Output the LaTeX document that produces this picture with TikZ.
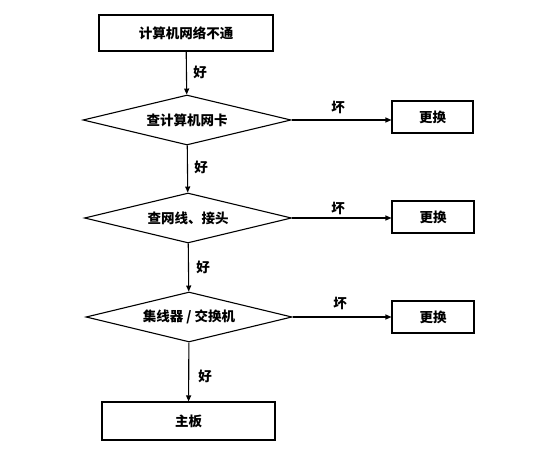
\documentclass[tikz,border=0pt]{standalone}
\usepackage{fontspec}
\setmainfont{Noto Sans CJK SC}
\usetikzlibrary{shapes.geometric,arrows.meta}
\begin{document}
\begin{tikzpicture}[x=1pt,y=-1pt,
  every node/.style={font=\fontsize{13.5}{14}\selectfont\bfseries},
  boxnode/.style={draw, line width=1.1pt, rectangle, inner sep=0pt},
  decide/.style={draw, line width=1.1pt, diamond, aspect=4, inner sep=0pt},
  flow/.style={draw, line width=1.1pt, -{Triangle[length=6pt,width=5pt]}},
  lbl/.style={inner sep=0pt}]
\useasboundingbox (0,0) rectangle (554,449);
\node[boxnode, minimum width=174pt, minimum height=36pt] (start) at (186,33) {计算机网络不通};
\node[decide, minimum width=208pt, minimum height=50pt] (d1) at (187,120) {查计算机网卡};
\node[decide, minimum width=207pt, minimum height=50pt] (d2) at (188,218) {查网线、接头};
\node[decide, minimum width=206pt, minimum height=50pt] (d3) at (189,317) {集线器 / 交换机};
\node[boxnode, minimum width=81pt, minimum height=32pt] (r1) at (432.5,117) {更换};
\node[boxnode, minimum width=82pt, minimum height=32pt] (r2) at (433,217) {更换};
\node[boxnode, minimum width=82pt, minimum height=32pt] (r3) at (433,317) {更换};
\node[boxnode, minimum width=173pt, minimum height=38pt] (end) at (188.5,421) {主板};
\draw[flow] (start) -- (d1);
\draw[flow] (d1) -- (d2);
\draw[flow] (d2) -- (d3);
\draw[flow] (d3) -- (end);
\draw[flow] (d1.east) -- (d1.east -| r1.west);
\draw[flow] (d2.east) -- (d2.east -| r2.west);
\draw[flow] (d3.east) -- (d3.east -| r3.west);
\node[lbl] (g1) at (200,72) {好};
\node[lbl] (g2) at (201,167) {好};
\node[lbl] (g3) at (203,267) {好};
\node[lbl] (g4) at (205,376) {好};
\node[lbl] (b1) at (338,107) {坏};
\node[lbl] (b2) at (338,208) {坏};
\node[lbl] (b3) at (340,303) {坏};
\end{tikzpicture}
\end{document}
